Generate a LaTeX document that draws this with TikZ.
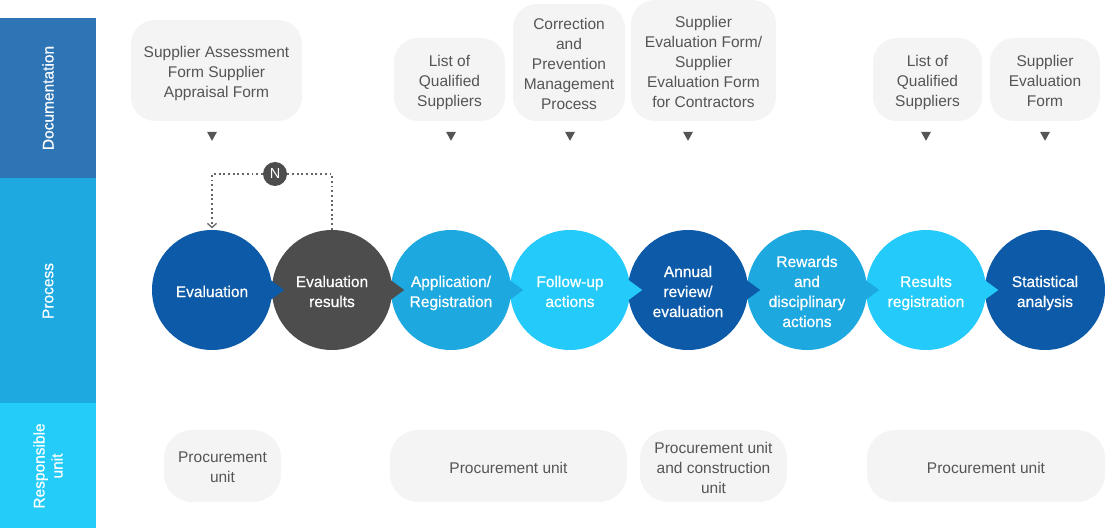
\documentclass[tikz,border=0pt]{standalone}
\usepackage{fontspec}
\setmainfont{Liberation Sans}
\newfontfamily\medfont[FakeBold=0.7]{Liberation Sans}
\usetikzlibrary{calc,arrows.meta}
\definecolor{docblue}{HTML}{2E75B6}
\definecolor{procblue}{HTML}{1FA9E1}
\definecolor{unitblue}{HTML}{24CCFA}
\definecolor{cdark}{HTML}{0D5BA8}
\definecolor{cmid}{HTML}{1DA9E0}
\definecolor{clight}{HTML}{24CBFA}
\definecolor{cgray}{HTML}{4D4D4D}
\definecolor{boxgray}{HTML}{F4F4F4}
\definecolor{txtgray}{HTML}{555555}
\definecolor{dotgray}{HTML}{666666}
\newcommand{\mytxt}[3]{\node[#1] (#2t) at ([yshift=-3pt]#2.center) {#3\vphantom{p}};}
\begin{document}
\begin{tikzpicture}[x=1pt,y=-1pt,
  bandlabel/.style={text=white, rotate=90, align=center, font=\medfont\fontsize{15.5}{18}\selectfont},
  docbox/.style={fill=boxgray, rounded corners=24pt, inner sep=0pt},
  unitbox/.style={fill=boxgray, rounded corners=28pt, inner sep=0pt, minimum height=72pt},
  graytxt/.style={text=txtgray, align=center, inner sep=0pt, font=\fontsize{15.5}{20}\selectfont},
  whitetxt/.style={text=white, align=center, inner sep=0pt, font=\medfont\fontsize{15.5}{20}\selectfont},
  proc/.style={circle, fill=#1, minimum size=120pt, inner sep=0pt},
  doctri/.style={fill=txtgray},
  loopline/.style={draw=dotgray, line width=1.9pt, dash pattern=on 1.9pt off 2.8pt}
]
\useasboundingbox (0,0) rectangle (1105,529);
% side bands
\fill[docblue] (0,18) rectangle (96,178);
\fill[procblue] (0,178) rectangle (96,403);
\fill[unitblue] (0,403) rectangle (96,528);
\node[bandlabel] (lbdoc) at (48,98) {Documentation};
\node[bandlabel] (lbproc) at (48,291) {Process};
\node[bandlabel] (lbunit) at (48,466) {Responsible\\unit};

% documentation boxes
\node[docbox, minimum width=171pt, minimum height=101pt] (d1) at (216.5,70.5) {};
\node[docbox, minimum width=111pt, minimum height=83pt] (d2) at (449.5,79.5) {};
\node[docbox, minimum width=112pt, minimum height=117pt] (d3) at (569,62.5) {};
\node[docbox, minimum width=145pt, minimum height=121pt] (d4) at (703.5,60.5) {};
\node[docbox, minimum width=109pt, minimum height=83pt] (d5) at (927.5,79.5) {};
\node[docbox, minimum width=110pt, minimum height=83pt] (d6) at (1045,79.5) {};
\mytxt{graytxt}{d1}{Supplier Assessment\\Form Supplier\\Appraisal Form}
\mytxt{graytxt}{d2}{List of\\Qualified\\Suppliers}
\mytxt{graytxt}{d3}{Correction\\and\\Prevention\\Management\\Process}
\mytxt{graytxt}{d4}{Supplier\\Evaluation Form/\\Supplier\\Evaluation Form\\for Contractors}
\mytxt{graytxt}{d5}{List of\\Qualified\\Suppliers}
\mytxt{graytxt}{d6}{Supplier\\Evaluation\\Form}

% process circles
\node[proc=cdark] (ev) at (212,290) {};
\node[proc=cgray] (er) at (332,290) {};
\node[proc=cmid] (ap) at (451,290) {};
\node[proc=clight] (fu) at (570,290) {};
\node[proc=cdark] (an) at (688,290) {};
\node[proc=cmid] (rw) at (807,290) {};
\node[proc=clight] (rr) at (926,290) {};
\node[proc=cdark] (sa) at (1045,290) {};

% pointers
\foreach \n/\c in {ev/cdark, er/cgray, ap/cmid, fu/clight, an/cdark, rw/cmid, rr/clight}{
  \fill[\c] ($(\n.east)+(-3,-11)$) -- ($(\n.east)+(12,0)$) -- ($(\n.east)+(-3,11)$) -- cycle;
}

\mytxt{whitetxt}{ev}{Evaluation}
\mytxt{whitetxt}{er}{Evaluation\\results}
\mytxt{whitetxt}{ap}{Application/\\Registration}
\mytxt{whitetxt}{fu}{Follow-up\\actions}
\mytxt{whitetxt}{an}{Annual\\review/\\evaluation}
\mytxt{whitetxt}{rw}{Rewards\\and\\disciplinary\\actions}
\mytxt{whitetxt}{rr}{Results\\registration}
\mytxt{whitetxt}{sa}{Statistical\\analysis}

% triangles under documentation
\foreach \n in {ev, ap, fu, an, rr, sa}{
  \fill[doctri] ($(\n.north)+(-5,-98)$) -- ++(10,0) -- ++(-5,9) -- cycle;
}

% N loop
\node[circle, fill=cgray, minimum size=24pt, inner sep=0pt, text=white, font=\fontsize{14.5}{16}\selectfont] (N) at (275,174) {N};
\draw[loopline] (er.north) |- (N.east);
\draw[loopline, -{Straight Barb[length=4pt,width=9pt,line width=1.3pt]}, shorten >=1.5pt] (N.west) -| (ev.north);

% responsible unit boxes
\node[unitbox, minimum width=117pt] (u1) at (222.5,466) {};
\node[unitbox, minimum width=237pt] (u2) at (508.5,466) {};
\node[unitbox, minimum width=147pt] (u3) at (713.5,466) {};
\node[unitbox, minimum width=238pt] (u4) at (986,466) {};
\mytxt{graytxt}{u1}{Procurement\\unit}
\mytxt{graytxt}{u2}{Procurement unit}
\mytxt{graytxt}{u3}{Procurement unit\\and construction\\unit}
\mytxt{graytxt}{u4}{Procurement unit}
\end{tikzpicture}
\end{document}
